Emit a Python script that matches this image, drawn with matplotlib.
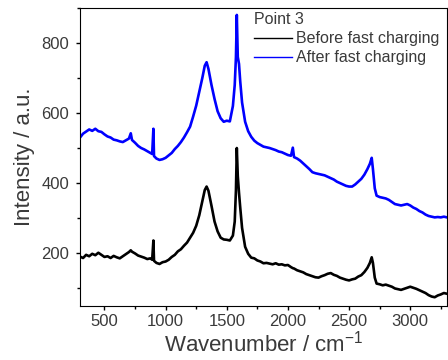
import matplotlib
matplotlib.use('Agg')
import matplotlib.pyplot as plt
from matplotlib.ticker import MultipleLocator

# ----- Data: Raman spectra -----
wavenumber = [
    300, 325, 350, 375, 400, 425, 450, 475, 500, 525,
    550, 575, 600, 625, 650, 675, 700, 715, 725, 750,
    775, 800, 825, 850, 875, 890, 900, 905, 925, 950,
    975, 1000, 1025, 1050, 1075, 1100, 1125, 1150, 1175, 1200,
    1225, 1250, 1275, 1300, 1320, 1335, 1350, 1375, 1400, 1425,
    1450, 1475, 1500, 1525, 1550, 1565, 1575, 1582, 1590, 1600,
    1610, 1625, 1650, 1675, 1700, 1725, 1750, 1775, 1800, 1825,
    1850, 1875, 1900, 1925, 1950, 1975, 2000, 2025, 2040, 2050,
    2075, 2100, 2125, 2150, 2175, 2200, 2225, 2250, 2275, 2300,
    2325, 2350, 2375, 2400, 2425, 2450, 2475, 2500, 2525, 2550,
    2575, 2600, 2625, 2650, 2670, 2685, 2695, 2710, 2725, 2750,
    2775, 2800, 2825, 2850, 2875, 2900, 2925, 2950, 2975, 3000,
    3025, 3050, 3075, 3100, 3125, 3150, 3175, 3200, 3225, 3250,
    3275, 3300,
]

before = [
    190, 186, 195, 191, 198, 194, 201, 195, 189, 191,
    186, 192, 188, 185, 191, 197, 203, 208, 204, 199,
    193, 190, 187, 183, 185, 181, 236, 178, 172, 169,
    174, 176, 181, 189, 195, 205, 211, 221, 230, 244,
    258, 278, 308, 348, 380, 390, 378, 335, 290, 262,
    244, 239, 238, 236, 250, 290, 380, 500, 420, 372,
    330, 272, 218, 198, 187, 185, 179, 176, 171, 172,
    170, 168, 171, 167, 168, 165, 166, 160, 157, 156,
    151, 148, 145, 140, 137, 134, 131, 130, 134, 137,
    141, 143, 138, 135, 130, 127, 124, 122, 125, 127,
    133, 137, 146, 158, 172, 188, 172, 130, 113, 111,
    108, 110, 107, 104, 99, 97, 95, 98, 101, 104,
    101, 98, 94, 90, 86, 80, 76, 74, 79, 82,
    86, 84,
]

after = [
    530, 541, 547, 553, 549, 555, 548, 546, 539, 533,
    530, 524, 522, 519, 517, 522, 527, 542, 523, 515,
    506, 500, 496, 491, 486, 483, 555, 477, 470, 466,
    468, 472, 479, 486, 497, 506, 517, 530, 545, 561,
    590, 621, 660, 700, 735, 745, 726, 680, 640, 605,
    585, 575, 578, 576, 620, 680, 760, 880, 760, 740,
    690, 630, 575, 548, 532, 521, 514, 509, 504, 502,
    500, 497, 494, 490, 488, 484, 480, 478, 501, 474,
    470, 464, 456, 448, 440, 431, 428, 426, 424, 422,
    418, 414, 410, 404, 400, 396, 392, 390, 390, 396,
    404, 412, 424, 440, 455, 472, 440, 385, 364, 360,
    358, 356, 352, 346, 340, 338, 336, 338, 340, 336,
    330, 326, 320, 316, 310, 306, 304, 302, 303, 302,
    304, 302,
]

labels = ['Before fast charging', 'After fast charging']
legend_title = 'Point 3'

# ----- Plot -----
plt.rcParams['font.family'] = ['Liberation Sans', 'DejaVu Sans']
plt.rcParams['mathtext.default'] = 'regular'
text_color = '#3a3a3a'

fig = plt.figure(figsize=(4.48, 3.6), dpi=100)
ax = fig.add_axes([0.1786, 0.151, 0.819, 0.827])

ax.plot(wavenumber, before, color='black', lw=1.9, label=labels[0])
ax.plot(wavenumber, after, color='#0000ff', lw=1.9, label=labels[1])

ax.set_xlim(300, 3300)
ax.set_ylim(50, 900)
ax.xaxis.set_major_locator(MultipleLocator(500))
ax.xaxis.set_minor_locator(MultipleLocator(250))
ax.yaxis.set_major_locator(MultipleLocator(200))
ax.yaxis.set_minor_locator(MultipleLocator(100))
ax.tick_params(which='major', length=3, width=1, labelsize=12,
               labelcolor=text_color)
ax.tick_params(which='minor', length=2, width=1)
ax.tick_params(axis='x', pad=3)
ax.tick_params(axis='y', pad=5)

ax.set_xlabel('Wavenumber / cm$^{-1}$', fontsize=16, color=text_color,
              labelpad=1)
ax.set_ylabel('Intensity / a.u.', fontsize=16, color=text_color,
              labelpad=4)

leg = ax.legend(title=legend_title, loc='upper left',
                bbox_to_anchor=(0.474, 0.985), frameon=False,
                fontsize=11.5, title_fontsize=11.5, handlelength=2.4,
                handletextpad=0.25, labelspacing=0.25, borderpad=0,
                borderaxespad=0)
leg._legend_box.align = 'left'
for t in leg.get_texts():
    t.set_color(text_color)
for ln in leg.get_lines():
    ln.set_linewidth(1)
leg.get_title().set_color(text_color)

fig.savefig('out.png', dpi=100)
